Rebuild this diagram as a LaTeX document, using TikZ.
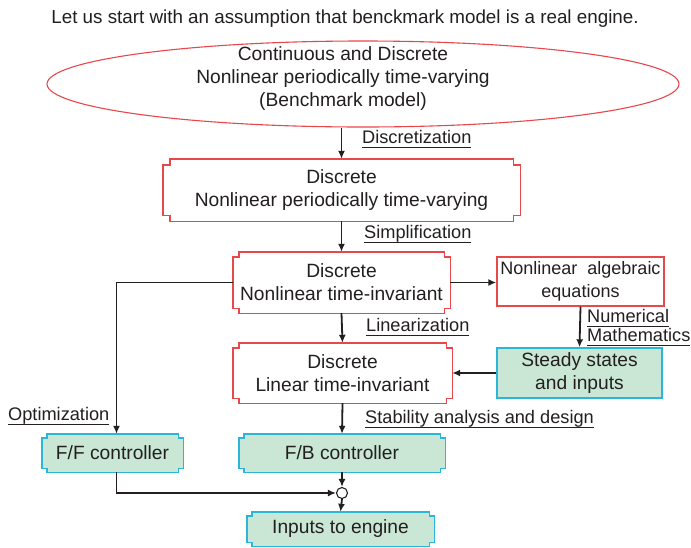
\documentclass[tikz,border=0pt]{standalone}
\usepackage{fontspec}
\setmainfont{Liberation Sans}
\usetikzlibrary{arrows.meta,backgrounds,shapes.geometric}
\definecolor{txt}{HTML}{231F20}
\definecolor{redb}{HTML}{E8474C}
\definecolor{cyanb}{HTML}{2BB5D9}
\definecolor{greenf}{HTML}{C9E7D4}
\newcommand\ulx[1]{\leavevmode\vtop{\hbox{\smash{#1}}\kern4pt\hrule height 1pt}}
\newcommand\notchframe[5]{%
  \path[draw=#2,fill=#3,line width=1.4pt]
   ([xshift=#4]#1.north west) -- ([xshift=-#4]#1.north east)
   -- ([xshift=-#4,yshift=-#5]#1.north east) -- ([yshift=-#5]#1.north east)
   -- ([yshift=#5]#1.south east) -- ([xshift=-#4,yshift=#5]#1.south east)
   -- ([xshift=-#4]#1.south east) -- ([xshift=#4]#1.south west)
   -- ([xshift=#4,yshift=#5]#1.south west) -- ([yshift=#5]#1.south west)
   -- ([yshift=-#5]#1.north west) -- ([xshift=#4,yshift=-#5]#1.north west)
   -- cycle;}
\begin{document}
\begin{tikzpicture}[x=1pt,y=-1pt,
  every node/.style={text=txt,font=\fontsize{19.2}{23}\selectfont},
  box/.style={inner sep=0pt,align=center},
  rbox/.style={box,draw=redb,line width=1.4pt},
  gbox/.style={box,draw=cyanb,fill=greenf,line width=1.4pt},
  lab/.style={anchor=base west,inner sep=0pt,align=left,font=\fontsize{18.2}{19}\selectfont},
  arr/.style={line width=1.8pt,draw=txt,-{Latex[length=8pt,width=7pt]}}]
\useasboundingbox (0,0) rectangle (691,547);
\node[inner sep=0pt,font=\fontsize{18.8}{23}\selectfont] (title) at (345,19) {Let us start with an assumption that benckmark model is a real engine.};
\node[ellipse,draw=redb,line width=1.1pt,minimum width=632pt,minimum height=86pt] (ell) at (363,84) {};
\node[box] (elltxt) at (343,79) {Continuous and Discrete\\Nonlinear periodically time-varying\\(Benchmark model)};
\node[box,minimum width=357pt,minimum height=62pt] (dnp) at (341.5,190) {Discrete\\Nonlinear periodically time-varying};
\node[box,minimum width=217pt,minimum height=61pt] (dnti) at (341.5,282.5) {Discrete\\Nonlinear time-invariant};
\node[rbox,minimum width=167pt,minimum height=49pt,font=\fontsize{18}{23}\selectfont] (nae) at (580.5,281.5) {Nonlinear\ \ algebraic\\equations};
\node[gbox,minimum width=165pt,minimum height=50pt] (ss) at (579.5,373) {Steady states\\and inputs};
\node[box,minimum width=219pt,minimum height=60pt] (dlti) at (342.5,373) {Discrete\\Linear time-invariant};
\node[box,minimum width=141pt,minimum height=38pt] (ff) at (112.5,453) {F/F controller};
\node[box,minimum width=206pt,minimum height=38pt] (fb) at (342,453) {F/B controller};
\node[box,minimum width=187pt,minimum height=34pt] (inp) at (340.5,529) {Inputs to engine};
\node[circle,draw=txt,fill=white,line width=1.1pt,minimum size=11pt,inner sep=0pt] (sum) at (342,493) {};
\begin{pgfonlayer}{background}
\fill[white] (0,0) rectangle (691,547);
\notchframe{dnp}{redb}{white}{7pt}{6pt}
\notchframe{dnti}{redb}{white}{6pt}{5pt}
\notchframe{dlti}{redb}{white}{6pt}{5pt}
\notchframe{ff}{cyanb}{greenf}{5pt}{4pt}
\notchframe{fb}{cyanb}{greenf}{5pt}{4pt}
\notchframe{inp}{cyanb}{greenf}{5pt}{4pt}
\end{pgfonlayer}
\node[lab] (l1) at (362,143) {\ulx{Discretization}};
\node[lab] (l2) at (364,238) {\ulx{Simplification}};
\node[lab] (l3) at (366,331) {\ulx{Linearization}};
\node[lab] (l4) at (587,341) {\ulx{Numerical}\\\ulx{Mathematics}};
\node[lab] (l5) at (8,420) {\ulx{Optimization}};
\node[lab] (l6) at (365,423) {\ulx{Stability analysis and design}};
\draw[arr] (dnp.north |- ell.south) -- (dnp.north);
\draw[arr] (dnp.south) -- (dnti.north);
\draw[arr] (dnti.east) -- (dnti.east -| nae.west);
\draw[arr] (nae.south) -- (ss.north);
\draw[arr] (ss.west) -- (ss.west -| dlti.east);
\draw[arr] (dnti.west) -| ([xshift=4pt]ff.north);
\draw[arr] (dnti.south) -- (dlti.north);
\draw[arr] (dlti.south) -- (fb.north);
\draw[arr] (fb.south) -- (sum.north);
\draw[arr] ([xshift=4pt]ff.south) |- (sum.west);
\draw[arr] (sum.south) -- (inp.north);
\end{tikzpicture}
\end{document}
